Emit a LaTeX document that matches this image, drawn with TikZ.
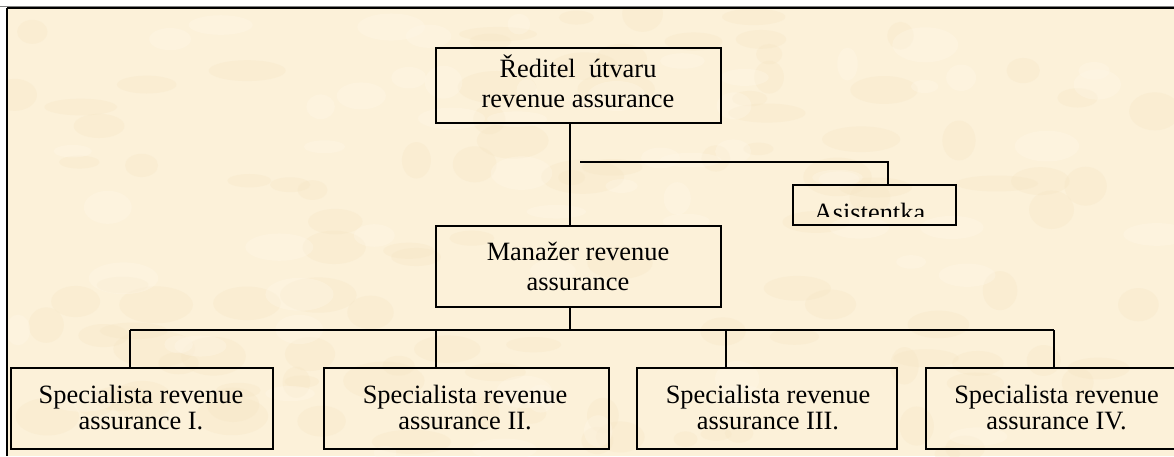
\documentclass[tikz,border=0pt]{standalone}
\usepackage{fontspec}
\setmainfont{Liberation Serif}
\newcommand\twolines[2]{\begin{tabular}[t]{@{}c@{}}#1\\#2\end{tabular}}
\definecolor{parch}{RGB}{252,241,217}
\definecolor{parchdark}{RGB}{246,230,196}
\definecolor{parchlight}{RGB}{255,247,232}
\begin{document}
\begin{tikzpicture}[x=1pt,y=-1pt,
  box/.style={draw=black, line width=2pt, rectangle, inner sep=0pt},
  txt/.style={anchor=base, inner sep=0pt, font=\fontsize{26.4}{30}\selectfont},
  txtS/.style={anchor=base, inner sep=0pt, font=\fontsize{26.4}{26}\selectfont},
  link/.style={draw=black, line width=1.8pt}]
  % page and parchment background
  \useasboundingbox (0,0) rectangle (1174,456);
  \fill[white] (0,0) rectangle (1174,456);
  \begin{scope}
    \clip (7,9) rectangle (1174,456);
    \fill[parch] (7,9) rectangle (1174,456);
    \pgfmathsetseed{7}
    \foreach \i in {1,...,110}{
      \pgfmathsetmacro{\px}{10+1160*rnd}
      \pgfmathsetmacro{\py}{10+445*rnd}
      \pgfmathsetmacro{\rx}{12+30*rnd}
      \pgfmathsetmacro{\ry}{6+14*rnd}
      \fill[parchdark, opacity=0.3] (\px,\py) ellipse [x radius=\rx, y radius=\ry];
    }
    \foreach \i in {1,...,60}{
      \pgfmathsetmacro{\px}{10+1160*rnd}
      \pgfmathsetmacro{\py}{10+445*rnd}
      \pgfmathsetmacro{\rx}{10+25*rnd}
      \pgfmathsetmacro{\ry}{6+12*rnd}
      \fill[parchlight, opacity=0.35] (\px,\py) ellipse [x radius=\rx, y radius=\ry];
    }
  \end{scope}
  % frame
  \draw[gray, line width=1.4pt] (0,6.7) -- (1174,6.7);
  \draw[black, line width=2pt] (7.3,8.4) -- (1174,8.4);
  \draw[black, line width=2pt] (7.3,8.4) -- (7.3,456);

  % boxes
  \node[box, minimum width=285pt, minimum height=75pt] (dir) at (578.5,85.5) {};
  \node[box, minimum width=285pt, minimum height=81pt] (man) at (578.5,266.5) {};
  \node[box, minimum width=163pt, minimum height=40pt] (asi) at (874.5,205) {};
  \node[box, minimum width=262pt, minimum height=81pt] (s1) at (142,408.5) {};
  \node[box, minimum width=285pt, minimum height=81pt] (s2) at (466.5,408.5) {};
  \node[box, minimum width=260pt, minimum height=81pt] (s3) at (767,408.5) {};
  \node[box, minimum width=261pt, minimum height=81pt] (s4) at (1056.5,408.5) {};

  % texts
  \node[txt] (dirT) at (578,77) {\twolines{Ředitel\ \ útvaru}{revenue assurance}};
  \node[txt] (manT) at (578,260) {\twolines{Manažer revenue}{assurance}};
  \begin{scope}
    \clip (795,187) rectangle (954,216);
    \node[txt] (asiT) at (869.5,221) {Asistentka};
  \end{scope}
  \node[txtS] (s1T) at (141,403) {\twolines{Specialista revenue}{assurance I.}};
  \node[txtS] (s2T) at (465,403) {\twolines{Specialista revenue}{assurance II.}};
  \node[txtS] (s3T) at (768,403) {\twolines{Specialista revenue}{assurance III.}};
  \node[txtS] (s4T) at (1056.5,403) {\twolines{Specialista revenue}{assurance IV.}};

  % connectors
  \coordinate (trunk) at (570,330);
  \coordinate (aL) at (580,162);
  \coordinate (aR) at (888,162);
  \coordinate (b1) at (130,330);
  \coordinate (b2) at (436,330);
  \coordinate (b3) at (726,330);
  \coordinate (b4) at (1054,330);
  \draw[link] (dir.south -| trunk) -- (man.north -| trunk);
  \draw[link] (man.south -| trunk) -- (trunk);
  \draw[link] (aL) -- (aR) -- (aR |- asi.north);
  \draw[link] (b1) -- (b4);
  \draw[link] (b1) -- (b1 |- s1.north);
  \draw[link] (b2) -- (b2 |- s2.north);
  \draw[link] (b3) -- (b3 |- s3.north);
  \draw[link] (b4) -- (b4 |- s4.north);
\end{tikzpicture}
\end{document}
